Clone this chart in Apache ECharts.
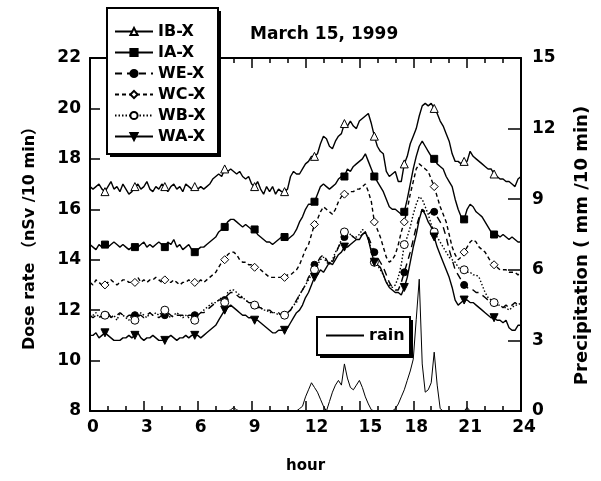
<!DOCTYPE html>
<html><head><meta charset="utf-8">
<script src="https://cdn.jsdelivr.net/npm/echarts@6/dist/echarts.min.js"></script>
<style>html,body{margin:0;padding:0;background:#fff}#c{width:601px;height:481px}</style>
</head><body><div id="c"></div>
<script>
// 10-minute samples, 0:00 .. 24:00 (145 values)
const seriesNames = ['IB-X','IA-X','WE-X','WC-X','WB-X','WA-X'];
const rainName = 'rain';
const IB = [
16.9,16.8,16.9,17.0,16.8,16.7,16.9,17.1,16.8,16.9,16.7,17.0,
16.8,16.6,16.7,16.9,17.0,16.8,16.9,17.1,16.8,16.7,16.9,16.8,
17.0,16.9,16.7,16.9,17.0,16.8,16.9,16.7,17.0,16.9,16.8,16.9,
16.8,16.9,16.8,16.9,17.0,17.2,17.3,17.4,17.3,17.6,17.5,17.6,
17.5,17.4,17.5,17.3,17.2,17.3,17.0,16.9,17.1,16.8,16.6,16.9,
16.7,16.9,16.6,16.8,16.7,16.7,16.8,17.3,17.5,17.4,17.4,17.6,
17.8,17.9,18.1,18.1,18.2,18.6,18.9,18.8,18.5,18.4,18.7,18.9,
19.0,19.4,19.3,19.5,19.3,19.2,19.5,19.6,19.7,19.8,19.4,18.9,
18.5,18.3,18.2,17.5,17.3,17.4,17.5,17.1,17.1,17.8,18.1,18.6,
18.9,19.2,19.7,20.1,20.2,20.1,20.2,20.0,19.8,19.5,19.3,19.0,
18.7,18.2,17.9,17.9,17.8,17.9,17.9,18.3,18.1,18.0,17.9,17.8,
17.7,17.6,17.6,17.4,17.3,17.2,17.2,17.1,17.1,17.0,16.9,17.2,
17.3];
const IA = [
14.6,14.5,14.4,14.6,14.5,14.6,14.5,14.6,14.7,14.6,14.5,14.6,
14.5,14.4,14.5,14.5,14.5,14.6,14.7,14.5,14.6,14.5,14.6,14.7,
14.6,14.5,14.7,14.6,14.8,14.5,14.6,14.4,14.5,14.6,14.4,14.3,
14.4,14.5,14.5,14.6,14.7,14.8,14.9,15.1,15.2,15.3,15.5,15.6,
15.6,15.5,15.4,15.3,15.4,15.3,15.2,15.2,15.0,14.9,14.8,14.7,
14.7,14.6,14.7,14.8,14.9,14.9,14.8,14.9,15.0,15.2,15.5,15.7,
16.0,16.2,16.2,16.3,16.6,16.9,17.0,16.9,16.8,16.9,17.0,17.2,
17.3,17.3,17.6,17.5,17.7,17.8,17.9,18.0,18.2,17.9,17.6,17.3,
17.1,16.9,16.7,16.4,16.1,16.0,16.0,15.9,15.8,15.9,16.4,17.0,
17.6,18.1,18.5,18.7,18.5,18.3,18.1,18.0,17.8,17.7,17.6,17.3,
17.1,16.9,16.4,16.0,15.7,15.6,16.0,16.2,16.1,15.9,15.8,15.7,
15.5,15.3,15.1,15.0,15.0,14.9,15.0,14.9,14.8,14.9,14.8,14.7,
14.7];
const WE = [
11.8,11.7,11.8,11.8,11.7,11.8,11.9,11.7,11.8,11.8,11.9,11.8,
11.7,11.8,11.8,11.8,11.8,11.8,11.7,11.8,11.9,11.8,11.8,11.7,
11.8,11.8,11.9,11.8,11.7,11.8,11.8,11.8,11.7,11.8,11.8,11.8,
11.8,11.9,11.9,12.0,12.1,12.2,12.3,12.4,12.4,12.4,12.6,12.7,
12.7,12.6,12.5,12.5,12.4,12.3,12.3,12.2,12.1,12.1,12.0,12.0,
12.0,11.9,11.9,11.9,11.8,11.8,11.9,12.0,12.2,12.4,12.6,12.8,
13.0,13.3,13.5,13.8,13.9,14.1,14.2,14.0,13.8,13.9,14.2,14.5,
14.7,14.9,15.0,15.0,14.9,14.8,14.9,15.0,15.1,14.9,14.6,14.3,
14.1,13.9,13.7,13.4,13.1,12.9,12.8,12.8,13.1,13.5,13.9,14.3,
14.8,15.3,15.7,16.0,15.9,15.8,15.9,15.9,15.7,15.5,15.3,14.9,
14.4,14.0,13.6,13.4,13.2,13.0,12.9,12.8,12.8,12.7,12.7,12.6,
12.5,12.4,12.4,12.3,12.2,12.2,12.1,12.2,12.1,12.2,12.3,12.2,
12.3];
const WC = [
13.1,13.0,13.2,13.1,13.0,13.0,13.1,13.2,13.1,13.0,13.1,13.2,
13.2,13.1,13.1,13.1,13.3,13.1,13.2,13.1,13.2,13.2,13.3,13.2,
13.1,13.2,13.1,13.1,13.2,13.1,13.0,13.1,13.1,13.2,13.1,13.1,
13.1,13.2,13.1,13.2,13.3,13.4,13.5,13.7,13.9,14.0,14.2,14.3,
14.3,14.2,14.0,13.9,13.9,13.8,13.8,13.7,13.7,13.6,13.5,13.4,
13.3,13.3,13.3,13.3,13.3,13.3,13.4,13.4,13.5,13.6,13.8,14.1,
14.4,14.6,15.0,15.4,15.6,15.9,16.1,16.0,15.9,15.8,16.0,16.3,
16.5,16.6,16.6,16.7,16.7,16.8,16.8,16.9,17.0,16.7,16.3,15.5,
15.2,14.9,14.5,14.1,13.9,14.0,14.2,14.6,15.1,15.5,16.0,16.6,
17.1,17.6,17.8,17.7,17.6,17.5,17.2,16.9,16.5,16.1,15.8,15.5,
15.0,14.5,14.2,14.0,14.1,14.3,14.5,14.7,14.8,14.7,14.5,14.4,
14.3,14.1,13.9,13.8,13.7,13.6,13.6,13.6,13.5,13.5,13.5,13.4,
13.5];
const WB = [
11.7,11.8,11.9,11.7,11.8,11.8,11.9,11.7,11.8,11.6,11.9,11.8,
11.7,11.6,11.8,11.6,11.7,11.9,11.8,11.7,11.9,11.8,11.9,11.8,
11.9,12.0,11.8,11.7,11.8,11.9,11.8,11.7,11.8,11.7,11.6,11.6,
11.8,11.9,12.0,12.1,12.2,12.3,12.3,12.4,12.5,12.3,12.7,12.8,
12.8,12.7,12.6,12.5,12.4,12.3,12.3,12.2,12.2,12.1,12.0,12.0,
11.9,11.9,11.9,11.8,11.9,11.8,11.9,12.0,12.2,12.3,12.6,12.8,
13.0,13.2,13.4,13.6,13.8,14.0,14.1,13.9,13.8,14.0,14.3,14.5,
14.8,15.1,15.1,15.0,14.9,14.9,15.0,15.2,15.1,14.8,14.4,13.9,
13.8,13.6,13.4,13.1,13.0,12.9,13.0,13.3,13.8,14.6,14.9,15.3,
15.8,16.2,16.5,16.4,16.1,15.8,15.4,15.1,14.9,14.7,14.5,14.3,
14.1,14.0,13.9,13.7,13.6,13.6,13.5,13.5,13.4,13.4,13.3,13.0,
12.7,12.5,12.4,12.3,12.2,12.2,12.1,12.1,12.0,12.1,12.2,12.2,
12.3];
const WA = [
11.0,11.0,11.1,10.9,11.0,11.1,11.0,10.9,10.8,10.8,10.8,10.9,
10.9,11.0,10.9,11.0,11.1,10.9,10.8,10.9,10.9,11.0,10.9,10.8,
10.8,10.8,10.9,11.0,10.9,10.8,10.9,10.9,11.0,10.9,11.0,11.0,
11.0,10.9,11.0,11.1,11.2,11.3,11.4,11.6,11.8,12.0,12.1,12.2,
12.1,12.0,11.9,11.8,11.8,11.7,11.7,11.6,11.6,11.5,11.4,11.3,
11.2,11.1,11.1,11.2,11.2,11.2,11.3,11.5,11.7,11.9,12.0,12.2,
12.5,12.7,13.0,13.3,13.4,13.6,13.5,13.7,13.9,13.8,14.0,14.2,
14.3,14.5,14.5,14.6,14.7,14.8,14.8,15.0,15.1,14.8,14.3,13.9,
13.8,13.7,13.4,13.1,12.9,12.8,12.7,12.7,12.6,12.9,13.3,13.9,
14.5,15.0,15.6,16.0,15.8,15.5,15.3,14.9,14.5,14.2,13.9,13.6,
13.3,12.9,12.4,12.2,12.3,12.4,12.4,12.3,12.3,12.2,12.1,12.0,
11.9,11.8,11.7,11.7,11.6,11.6,11.5,11.6,11.3,11.2,11.2,11.4,
11.4];
const RAIN = [
0,0,0,0,0,0,0,0,0,0,0,0,
0,0,0,0,0,0,0,0,0,0,0,0,
0,0,0,0,0,0,0,0,0,0,0,0,
0,0,0,0,0,0,0,0,0,0,0,0.05,
0.15,0.05,0,0,0,0,0,0,0,0,0,0,
0,0,0,0,0,0,0,0,0,0,0.1,0.2,
0.6,0.9,1.2,1.0,0.8,0.5,0.2,0,0.4,0.8,1.1,1.3,
1.1,2.0,1.4,1.0,0.9,1.1,1.3,1.0,0.6,0.3,0.05,0,
0,0,0,0,0,0,0.1,0.3,0.6,0.9,1.3,1.7,
2.2,3.9,5.6,2.0,0.8,0.9,1.2,2.5,1.1,0.1,0,0,
0,0,0,0,0,0,0.15,0,0,0,0,0,
0,0,0,0,0,0,0,0,0,0,0,0,
0];

const STEP_H = 1/6;          // 10 minutes
const MARK_EVERY = 10, MARK_OFFSET = 5;
const FONT = "'DejaVu Sans', 'Noto Sans CJK JP', sans-serif";
const BLACK = '#000';

function lineSeries(name, vals, symbol, size, open, dash) {
  return {
    name, type: 'line', xAxisIndex: 0, yAxisIndex: 0,
    data: vals.map((v, i) => i % MARK_EVERY === MARK_OFFSET
      ? [i * STEP_H, v]
      : { value: [i * STEP_H, v], symbol: 'none' }),
    symbol, symbolSize: size, showAllSymbol: true,
    itemStyle: { color: open ? '#fff' : BLACK, borderColor: BLACK, borderWidth: 1 },
    lineStyle: { color: BLACK, width: 1.4, type: dash },
    emphasis: { disabled: true }, animation: false, z: 3
  };
}
const DOWN_TRI = 'path://M0,0L10,0L5,9Z';
const styles = {
  'IB-X': ['triangle', 8, true, 'solid'],
  'IA-X': ['rect', 7, false, 'solid'],
  'WE-X': ['circle', 7, false, [7, 5]],
  'WC-X': ['diamond', 8, true, [4, 3]],
  'WB-X': ['circle', 8, true, [1.5, 2]],
  'WA-X': [DOWN_TRI, 8, false, 'solid']
};
const valuesByName = { 'IB-X': IB, 'IA-X': IA, 'WE-X': WE, 'WC-X': WC, 'WB-X': WB, 'WA-X': WA };
const series = seriesNames.map(n => lineSeries(n, valuesByName[n], ...styles[n]));
series.push({
  name: rainName, type: 'line', xAxisIndex: 0, yAxisIndex: 1,
  data: RAIN.map((v, i) => [i * STEP_H, v]),
  symbol: 'none', lineStyle: { color: BLACK, width: 1 }, itemStyle: { color: BLACK },
  emphasis: { disabled: true }, animation: false, z: 2
});

const tickTxt = { fontFamily: FONT, fontWeight: 'bold', fontSize: 17, color: BLACK };
const shiftBig = [12, 15];
const axisLineStyle = { color: BLACK, width: 2 };
const xBase = {
  type: 'value', min: 0, max: 24, interval: 3,
  axisLine: { show: true, onZero: false, lineStyle: axisLineStyle },
  axisTick: { show: true, inside: true, length: 10, lineStyle: { color: BLACK, width: 1.5 } },
  minorTick: { show: true, splitNumber: 3, length: 5, lineStyle: { color: BLACK, width: 1.5 } },
  splitLine: { show: false }, minorSplitLine: { show: false }
};
const legendText = { fontFamily: FONT, fontWeight: 'bold', fontSize: 16, color: BLACK, lineHeight: 17 };

// legend boxes (frame + offset shadow)
function boxWithShadow(x, y, w, h) {
  return [
    { type: 'rect', z: 9, shape: { x: x + 3, y: y + 3, width: w, height: h }, style: { fill: BLACK } },
    { type: 'rect', z: 10, shape: { x, y, width: w, height: h }, style: { fill: '#fff', stroke: BLACK, lineWidth: 2 } }
  ];
}

const option = {
  backgroundColor: '#fff',
  animation: false,
  title: {
    text: 'March 15, 1999', left: 245, top: 21,
    textStyle: { fontFamily: FONT, fontWeight: 'bold', fontSize: 17, color: BLACK }
  },
  grid: { left: 90, right: 80, top: 58, bottom: 70, containLabel: false },
  graphic: [...boxWithShadow(107, 8, 111, 146), ...boxWithShadow(317, 317, 93, 38)],
  xAxis: [
    Object.assign({}, xBase, {
      position: 'bottom',
      axisLabel: {
        margin: 8,
        formatter: v => (shiftBig.indexOf(v) >= 0 ? '{b|' + v + '}' : '{a|' + v + '}'),
        rich: {
          a: Object.assign({ padding: [0, 0, 0, 6] }, tickTxt),
          b: Object.assign({ padding: [0, 0, 0, 22] }, tickTxt)
        }
      },
      name: 'hour', nameLocation: 'middle', nameGap: 48,
      nameTextStyle: { fontFamily: FONT, fontWeight: 'bold', fontSize: 15, color: BLACK }
    }),
    Object.assign({}, xBase, { position: 'top', axisLabel: { show: false } })
  ],
  yAxis: [
    {
      type: 'value', min: 8, max: 22, interval: 2, position: 'left',
      axisLine: { show: true, onZero: false, lineStyle: axisLineStyle },
      axisTick: { show: true, inside: true, length: 10, lineStyle: { color: BLACK, width: 1.5 } },
      splitLine: { show: false },
      axisLabel: Object.assign({ margin: 9 }, tickTxt),
      name: 'Dose rate （nSv /10 min）', nameLocation: 'middle', nameGap: 52, nameRotate: 90,
      nameTextStyle: { fontFamily: FONT, fontWeight: 'bold', fontSize: 16, color: BLACK }
    },
    {
      type: 'value', min: 0, max: 15, interval: 3, position: 'right',
      axisLine: { show: true, onZero: false, lineStyle: axisLineStyle },
      axisTick: { show: true, inside: true, length: 13, lineStyle: { color: BLACK, width: 1.5 } },
      splitLine: { show: false },
      axisLabel: Object.assign({ margin: 11 }, tickTxt),
      name: 'Precipitation ( mm /10 min)', nameLocation: 'middle', nameGap: 52, nameRotate: 90,
      nameTextStyle: { fontFamily: FONT, fontWeight: 'bold', fontSize: 18, color: BLACK, padding: [0, 22, 0, 0] }
    }
  ],
  legend: [
    {
      data: seriesNames, orient: 'vertical', left: 107, top: 8, z: 20,
      padding: [15, 10, 9, 7], itemGap: 4, itemWidth: 38, itemHeight: 9,
      textStyle: legendText, selectedMode: false
    },
    {
      data: [rainName], orient: 'vertical', left: 317, top: 317, z: 20,
      padding: [10, 8, 10, 8], itemWidth: 38, itemHeight: 9,
      itemStyle: { color: 'rgba(0,0,0,0)', borderColor: 'rgba(0,0,0,0)', borderWidth: 0 },
      textStyle: legendText, selectedMode: false
    }
  ],
  series
};
const chart = echarts.init(document.getElementById('c'), null, { renderer: 'canvas' });
chart.setOption(option);
</script>
</body></html>
